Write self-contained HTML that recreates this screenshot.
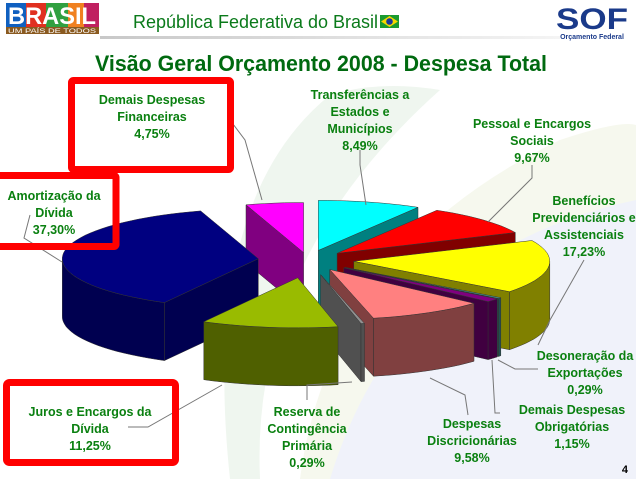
<!DOCTYPE html>
<html><head><meta charset="utf-8">
<style>
html,body{margin:0;padding:0;background:#fff;}
#wrap{position:relative;width:636px;height:479px;overflow:hidden;font-family:"Liberation Sans",sans-serif;}
svg{position:absolute;left:0;top:0;}
</style></head>
<body>
<div id="wrap">
<svg width="636" height="479" viewBox="0 0 636 479">
  <defs>
    <linearGradient id="hdrline" x1="0" x2="1" y1="0" y2="0">
      <stop offset="0" stop-color="#c8c8c8"/><stop offset="1" stop-color="#f4f4f4"/>
    </linearGradient>
  </defs>
  <g>
    <path d="M300 479 Q330 250 560 140 Q620 120 636 125 L636 479 Z" fill="#f6f8ee"/>
    <path d="M330 479 Q400 250 636 200 L636 479 Z" fill="#f0f2fa"/>
    <path d="M260 479 Q250 260 440 90 Q380 80 330 95 Q200 200 230 479 Z" fill="#eff6ef"/>
  </g>
  <g>
    <g>
      <rect x="6" y="3" width="93" height="30" fill="#f0c020"/>
      <rect x="6" y="3" width="20" height="24" fill="#1060c0"/>
      <rect x="26" y="3" width="20" height="24" fill="#e03020"/>
      <rect x="46" y="3" width="22" height="24" fill="#30a040"/>
      <rect x="68" y="3" width="16" height="24" fill="#f08020"/>
      <rect x="84" y="3" width="15" height="24" fill="#c02060"/>
      <text x="52" y="24" text-anchor="middle" font-size="24" font-weight="bold" fill="#fff" textLength="88" lengthAdjust="spacingAndGlyphs">BRASIL</text>
      <rect x="6" y="27" width="93" height="7" fill="#8a5a20"/>
      <text x="52" y="33" text-anchor="middle" font-size="6" fill="#fff" textLength="88" lengthAdjust="spacingAndGlyphs">UM PAÍS DE TODOS</text>
    </g>
    <text x="133" y="28" font-size="18" fill="#0a7a1a" textLength="245" lengthAdjust="spacingAndGlyphs">República Federativa do Brasil</text>
    <g>
      <rect x="380" y="15" width="19" height="13" fill="#1a9a30"/>
      <polygon points="389.5,16 398,21.5 389.5,27 381,21.5" fill="#f5d800"/>
      <circle cx="389.5" cy="21.5" r="3.3" fill="#1a3a9a"/>
    </g>
    <g>
      <text x="592" y="29" text-anchor="middle" font-size="30" font-weight="bold" fill="#1a3a8a" textLength="72" lengthAdjust="spacingAndGlyphs">SOF</text>
      <text x="592" y="39" text-anchor="middle" font-size="7" font-weight="bold" fill="#1a3a8a">Orçamento Federal</text>
    </g>
    <rect x="100" y="36" width="460" height="3" fill="url(#hdrline)"/>
  </g>
  <text x="321" y="71" text-anchor="middle" font-size="22" font-weight="bold" fill="#006a10" textLength="452" lengthAdjust="spacingAndGlyphs">Visão Geral Orçamento 2008 - Despesa Total</text>

  <g id="pie"></g>

  <g stroke="#777" stroke-width="1" fill="none">
    <polyline points="230,120 245,140 262,200"/>
    <polyline points="360,150 360,165 366,205"/>
    <polyline points="532,165 532,178 488,222"/>
    <polyline points="584,260 567,290 550,320 538,345"/>
    <polyline points="30,215 24,238 62,262"/>
    <polyline points="538,369 515,369 498,360"/>
    <polyline points="500,413 495,413 492,360"/>
    <polyline points="468,415 465,395 430,378"/>
    <polyline points="307,400 307,385 352,382"/>
    <polyline points="128,427 148,427 222,385"/>
  </g>

  <g fill="none" stroke="#ff0000" stroke-width="7">
    <rect x="71.5" y="80.5" width="159" height="89" rx="2"/>
    <rect x="-5" y="175.5" width="121" height="71" rx="2"/>
    <rect x="6.5" y="382.5" width="169" height="80" rx="3"/>
  </g>

  <g font-size="12.5" font-weight="bold" fill="#0a8010" text-anchor="middle">
    <text><tspan x="152" y="104">Demais Despesas</tspan><tspan x="152" y="121">Financeiras</tspan><tspan x="152" y="138">4,75%</tspan></text>
    <text><tspan x="360" y="99">Transferências a</tspan><tspan x="360" y="116">Estados e</tspan><tspan x="360" y="133">Municípios</tspan><tspan x="360" y="150">8,49%</tspan></text>
    <text><tspan x="532" y="128">Pessoal e Encargos</tspan><tspan x="532" y="145">Sociais</tspan><tspan x="532" y="162">9,67%</tspan></text>
    <text><tspan x="584" y="205">Benefícios</tspan><tspan x="584" y="222">Previdenciários e</tspan><tspan x="584" y="239">Assistenciais</tspan><tspan x="584" y="256">17,23%</tspan></text>
    <text><tspan x="54" y="200">Amortização da</tspan><tspan x="54" y="217">Dívida</tspan><tspan x="54" y="234">37,30%</tspan></text>
    <text><tspan x="585" y="360">Desoneração da</tspan><tspan x="585" y="377">Exportações</tspan><tspan x="585" y="394">0,29%</tspan></text>
    <text><tspan x="572" y="414">Demais Despesas</tspan><tspan x="572" y="431">Obrigatórias</tspan><tspan x="572" y="448">1,15%</tspan></text>
    <text><tspan x="472" y="428">Despesas</tspan><tspan x="472" y="445">Discricionárias</tspan><tspan x="472" y="462">9,58%</tspan></text>
    <text><tspan x="307" y="416">Reserva de</tspan><tspan x="307" y="433">Contingência</tspan><tspan x="307" y="450">Primária</tspan><tspan x="307" y="467">0,29%</tspan></text>
    <text><tspan x="90" y="416">Juros e Encargos da</tspan><tspan x="90" y="433">Dívida</tspan><tspan x="90" y="450">11,25%</tspan></text>
  </g>
  <text x="628" y="473" text-anchor="end" font-size="11" font-weight="bold" fill="#000">4</text>
</svg>
</div>
<script>
const categories = ["Transferências a Estados e Municípios","Pessoal e Encargos Sociais","Benefícios Previdenciários e Assistenciais","Desoneração da Exportações","Demais Despesas Obrigatórias","Despesas Discricionárias","Reserva de Contingência Primária","Juros e Encargos da Dívida","Amortização da Dívida","Demais Despesas Financeiras"];
const values = [8.49, 9.67, 17.23, 0.29, 1.15, 9.58, 0.29, 11.25, 37.30, 4.75];
const topColors = ["#00ffff","#ff0000","#ffff00","#40a0a0","#800080","#ff8080","#909090","#99bb00","#000080","#ff00ff"];
const sideColors = ["#008080","#800000","#808000","#205050","#400040","#804040","#505050","#4f6000","#000050","#800080"];
const explode = [0.2,0.2,0.235,0.24,0.24,0.22,0.3,0.36,0.255,0.15];

const cx=308, cy=260, rx=196, ry=50, depth=58;
const NS="http://www.w3.org/2000/svg";
const g=document.getElementById('pie');
const total=values.reduce((a,b)=>a+b,0);
function pt(ox,oy,deg,dz){const r=deg*Math.PI/180;return [ox+rx*Math.sin(r), oy-ry*Math.cos(r)+(dz||0)];}
function P(p){return p[0].toFixed(1)+','+p[1].toFixed(1);}
function poly(pts,fill,name){
  const el=document.createElementNS(NS,'polygon');
  el.setAttribute('points',pts.map(P).join(' '));
  el.setAttribute('fill',fill);
  el.setAttribute('stroke','#333');
  el.setAttribute('stroke-width','0.5');
  el.setAttribute('stroke-linejoin','round');
  
  
  g.appendChild(el);
}
let acc=0;const slices=[];
values.forEach((v,i)=>{const a=acc/total*360;acc+=v;const b=acc/total*360;slices.push({i,a,b,m:(a+b)/2});});
slices.slice().sort((s,t)=>Math.cos(t.m*Math.PI/180)-Math.cos(s.m*Math.PI/180)).forEach(s=>{
  const mr=s.m*Math.PI/180, e=explode[s.i];
  const ox=cx+e*rx*Math.sin(mr), oy=cy-e*ry*Math.cos(mr);
  const c=[ox,oy], cb=[ox,oy+depth];
  if(Math.sin(s.a*Math.PI/180)<0){const p=pt(ox,oy,s.a);poly([c,p,[p[0],p[1]+depth],cb],sideColors[s.i],'slice-wall-start');}
  if(Math.sin(s.b*Math.PI/180)>0){const p=pt(ox,oy,s.b);poly([c,p,[p[0],p[1]+depth],cb],sideColors[s.i],'slice-wall-end');}
  const lo=Math.max(s.a,90), hi=Math.min(s.b,270);
  if(hi>lo){const top=[],bot=[];const n=Math.max(2,Math.ceil((hi-lo)/3));
    for(let k=0;k<=n;k++){const d=lo+(hi-lo)*k/n;top.push(pt(ox,oy,d));bot.push(pt(ox,oy,d,depth));}
    poly(top.concat(bot.reverse()),sideColors[s.i],'slice-outer-wall');}
  const pts=[c];const n=Math.max(2,Math.ceil((s.b-s.a)/3));
  for(let k=0;k<=n;k++){pts.push(pt(ox,oy,s.a+(s.b-s.a)*k/n));}
  poly(pts,topColors[s.i],'slice-top');
});
</script>
</body></html>
